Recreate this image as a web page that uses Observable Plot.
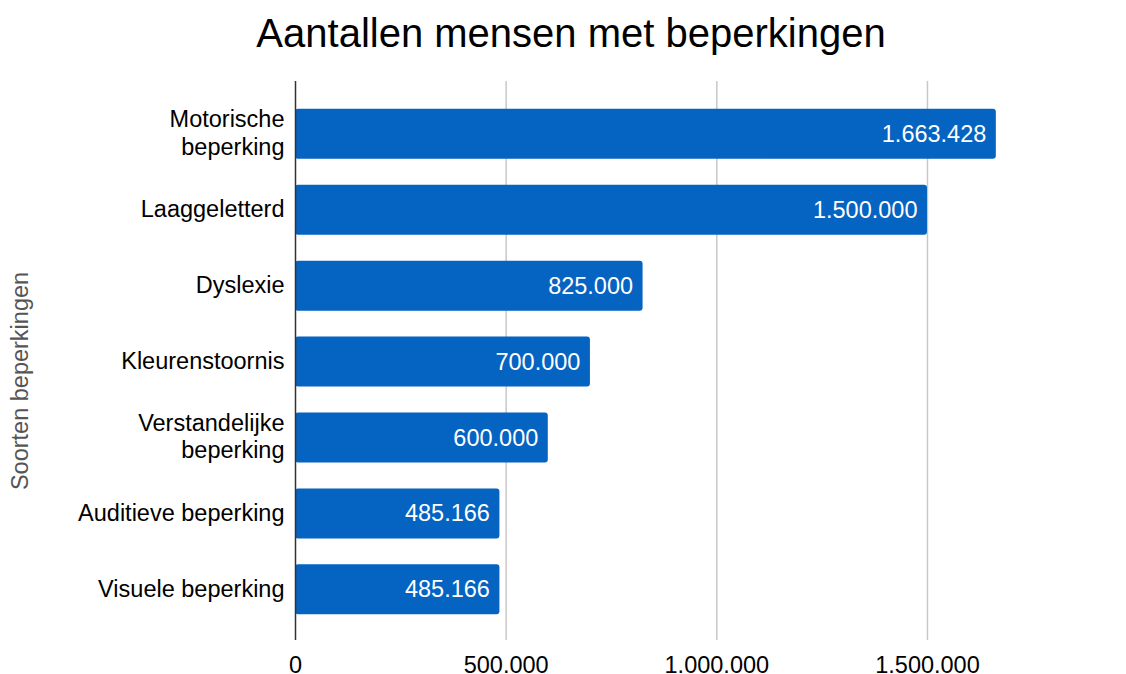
<!DOCTYPE html>
<html>
<head>
<meta charset="utf-8">
<script src="https://cdn.jsdelivr.net/npm/d3@7"></script>
<script src="https://cdn.jsdelivr.net/npm/@observablehq/plot@0.6"></script>
<style>
  body { margin: 0; background: #fff; }
  #title { height: 80px; box-sizing: border-box; padding-top: 13px; padding-left: 16px;
    font-family: 'Liberation Sans', Arial, sans-serif; font-size: 40px; line-height: 40px;
    text-align: center; color: #000; white-space: nowrap; }
  svg { display: block; }
</style>
</head>
<body>
<div id="title">Aantallen mensen met beperkingen</div>
<div id="chart"></div>
<script>
const categories = ["Motorische\nbeperking", "Laaggeletterd", "Dyslexie", "Kleurenstoornis", "Verstandelijke\nbeperking", "Auditieve beperking", "Visuele beperking"];
const values = [1663428, 1500000, 825000, 700000, 600000, 485166, 485166];
const xTicks = [0, 500000, 1000000, 1500000];
const gridTicks = [500000, 1000000, 1500000];
const yTitle = "Soorten beperkingen";

const nl = d3.formatLocale({decimal: ",", thousands: ".", grouping: [3], currency: ["€", ""]});
const fmt = nl.format(",d");
const data = categories.map((c, i) => ({cat: c, value: values[i]}));

const chart = Plot.plot({
  width: 1126,
  height: 594,
  marginTop: 1,
  marginBottom: 34,
  marginLeft: 295,
  marginRight: 30.5,
  style: {fontFamily: "'Liberation Sans', Arial, sans-serif", fontSize: "23.5px", color: "#000", background: "#fff", overflow: "visible"},
  x: {domain: [0, 1900000], label: null},
  y: {domain: categories, paddingInner: 0.341, paddingOuter: 0.352, align: 0.52, round: false, label: null},
  marks: [
    Plot.ruleX(gridTicks, {stroke: "#c8c8c8", strokeWidth: 1.5}),
    Plot.barX(data, {x: "value", y: "cat", fill: "#0563c1", rx: 3}),
    Plot.text(data, {x: "value", y: "cat", text: d => fmt(d.value), fill: "#fff", textAnchor: "end", dx: -10, fontSize: 23.5}),
    Plot.ruleX([0], {stroke: "#333", strokeWidth: 1.5}),
    Plot.axisX({ticks: xTicks, tickSize: 0, tickPadding: 16, tickFormat: fmt, fontSize: 23.5, label: null}),
    Plot.axisY({tickSize: 0, tickPadding: 11, fontSize: 23.5, lineHeight: 1.16, dy: -2, label: null}),
    Plot.text([yTitle], {frameAnchor: "left", rotate: -90, dx: -275, dy: 20, fontSize: 23.5, fill: "#555", textAnchor: "middle"})
  ]
});
document.getElementById("chart").appendChild(chart);
</script>
</body>
</html>
